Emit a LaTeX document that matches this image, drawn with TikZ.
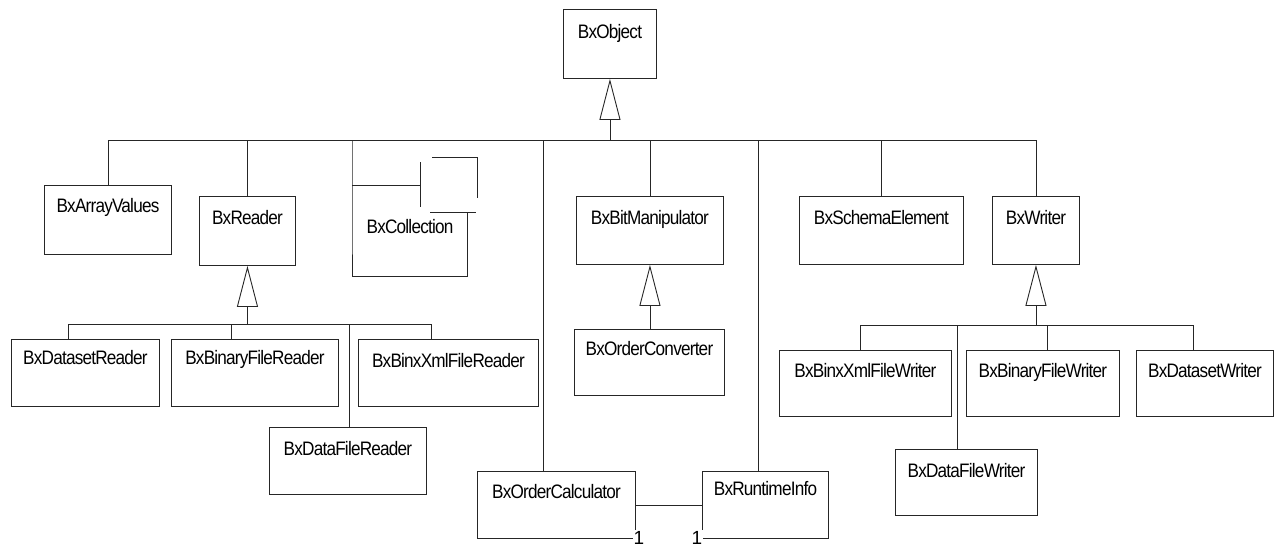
\documentclass[tikz,border=0pt]{standalone}
\usepackage{fontspec}
\setmainfont{Liberation Sans}[FakeStretch=0.88, LetterSpace=-4]
\newfontfamily\multfont{Liberation Sans}
\usetikzlibrary{arrows.meta}
\tikzset{
  clsbox/.style={draw, anchor=north west, inner sep=0pt},
  clstext/.style={anchor=base, inner sep=0pt, font=\fontsize{19.5}{21}\selectfont},
  inh/.style={-{Triangle[open,length=41pt,width=21pt]}},
  mult/.style={fill=white, inner sep=1.2pt, font=\multfont\fontsize{19}{20}\selectfont}
}
\newcommand\umlcls[7][27]{%
  \node[clsbox, minimum width={(#5-#3)*1pt}, minimum height={(#6-#4)*1pt}] (#2) at (#3,#4) {};
  \node[clstext] (#2-t) at ([yshift=-#1pt]#2.north) {#7};}
\begin{document}
\begin{tikzpicture}[x=1pt,y=-1pt,line width=0.9pt,draw=black!85]
\useasboundingbox (0,0) rectangle (1282,547);
% classes
\umlcls[29]{BxObject}{563}{9}{656}{78}{BxObject}
\umlcls{BxArrayValues}{44}{185}{171}{254}{BxArrayValues}
\umlcls[28]{BxReader}{199}{196}{295}{265}{BxReader}
\umlcls[28]{BxBitManipulator}{576}{196}{723}{264}{BxBitManipulator}
\umlcls[28]{BxSchemaElement}{799}{196}{963}{264}{BxSchemaElement}
\umlcls[28]{BxWriter}{992}{196}{1079}{264}{BxWriter}
\umlcls[26]{BxOrderConverter}{574}{329}{724}{395}{BxOrderConverter}
\umlcls[25]{BxDatasetReader}{11}{339}{159}{406}{BxDatasetReader}
\umlcls[25]{BxBinaryFileReader}{171}{339}{338}{406}{BxBinaryFileReader}
\umlcls[28]{BxBinxXmlFileReader}{358}{339}{538}{406}{BxBinxXmlFileReader}
\umlcls[28]{BxDataFileReader}{269}{427}{426}{494}{BxDataFileReader}
\umlcls{BxBinxXmlFileWriter}{779}{350}{951}{416}{BxBinxXmlFileWriter}
\umlcls{BxBinaryFileWriter}{966}{350}{1119}{416}{BxBinaryFileWriter}
\umlcls{BxDatasetWriter}{1136}{350}{1273}{416}{BxDatasetWriter}
\umlcls[28]{BxDataFileWriter}{895}{449}{1037}{515}{BxDataFileWriter}
\umlcls{BxOrderCalculator}{477}{471}{635}{538}{BxOrderCalculator}
\umlcls[24]{BxRuntimeInfo}{702}{471}{828}{538}{BxRuntimeInfo}
% BxCollection (irregular outline)
\node[clstext] (BxCollection) at (410,233) {BxCollection};
\draw (352,185) -- (420,185);
\draw (420,162) -- (420,207);
\draw (432,157) -- (477,157) -- (477,198);
\draw (430,212) -- (476,212);
\draw (467,212) -- (467,276) -- (352,276);
% main bus
\coordinate (ob) at (BxObject.south |- 0,140);
\coordinate (bl) at (BxArrayValues.north |- ob);
\coordinate (br) at (BxWriter.north |- ob);
\draw[inh] (ob) -- (BxObject.south);
\draw (bl) -- (br);
\draw (bl) -- (BxArrayValues.north);
\draw (BxReader.north |- ob) -- (BxReader.north);
\coordinate (scol) at (352,140);
\draw (scol) -- (scol |- BxCollection.south) -- (352,276);
\coordinate (scalc) at (543,140);
\draw (scalc) -- (scalc |- BxOrderCalculator.north);
\draw (BxBitManipulator.north |- ob) -- (BxBitManipulator.north);
\coordinate (srt) at (758,140);
\draw (srt) -- (srt |- BxRuntimeInfo.north);
\draw (BxSchemaElement.north |- ob) -- (BxSchemaElement.north);
\draw (br) -- (BxWriter.north);
% reader hierarchy
\coordinate (rj) at (BxReader.south |- 0,324);
\draw[inh] (rj) -- (BxReader.south);
\coordinate (r1) at (68,324);
\coordinate (r2) at (231,324);
\coordinate (r3) at (349,324);
\coordinate (r4) at (431,324);
\draw (r1) -- (r4);
\draw (r1) -- (r1 |- BxDatasetReader.north);
\draw (r2) -- (r2 |- BxBinaryFileReader.north);
\draw (r3) -- (r3 |- BxDataFileReader.north);
\draw (r4) -- (r4 |- BxBinxXmlFileReader.north);
% bit manipulator
\draw[inh] (BxOrderConverter.north -| BxBitManipulator.south) -- (BxBitManipulator.south);
% writer hierarchy
\coordinate (wj) at (BxWriter.south |- 0,325);
\draw[inh] (wj) -- (BxWriter.south);
\coordinate (w1) at (860,325);
\coordinate (w2) at (957,325);
\coordinate (w3) at (1047,325);
\coordinate (w4) at (1193,325);
\draw (w1) -- (w4);
\draw (w1) -- (w1 |- BxBinxXmlFileWriter.north);
\draw (w2) -- (w2 |- BxDataFileWriter.north);
\draw (w3) -- (w3 |- BxBinaryFileWriter.north);
\draw (w4) -- (w4 |- BxDatasetWriter.north);
% association
\draw (BxOrderCalculator.east) -- (BxRuntimeInfo.west);
\node[mult] (m1) at (639,537.5) {1};
\node[mult] (m2) at (697,537.5) {1};
\end{tikzpicture}
\end{document}
